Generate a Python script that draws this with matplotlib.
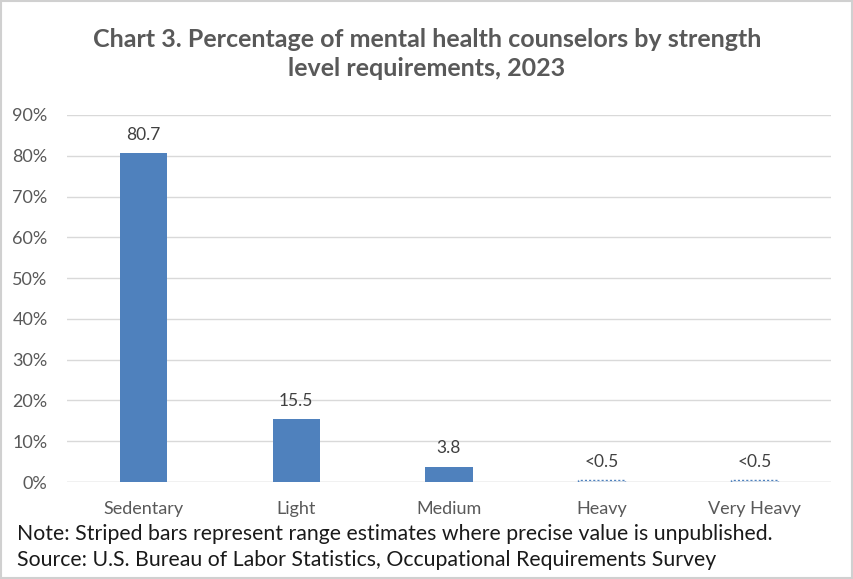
import matplotlib.pyplot as plt
from matplotlib.patches import Rectangle

categories = ['Sedentary', 'Light', 'Medium', 'Heavy', 'Very Heavy']
values = [80.7, 15.5, 3.8, 0.5, 0.5]
labels = ['80.7', '15.5', '3.8', '<0.5', '<0.5']
is_range = [False, False, False, True, True]

plt.rcParams['font.family'] = ['Lato', 'DejaVu Sans']

fig = plt.figure(figsize=(8.54, 5.79), dpi=100)
ax = fig.add_axes([0.0785, 0.1675, 0.8945, 0.634])

blue = '#4F81BD'
x = range(len(categories))
for i, (v, r) in enumerate(zip(values, is_range)):
    if r:
        ax.bar(i, v, width=0.31, facecolor='none', edgecolor=blue,
               linestyle=(0, (1.5, 1.5)), linewidth=1)
        ax.text(i, 3.0, labels[i], ha='center', va='bottom', fontsize=12.5, color='#404040')
    else:
        ax.bar(i, v, width=0.31, color=blue)
        ax.text(i, v + 2.5, labels[i], ha='center', va='bottom', fontsize=12.5, color='#404040')

ax.set_ylim(0, 90)
ax.set_xlim(-0.5, 4.5)
ax.set_yticks(range(0, 91, 10))
ax.set_yticklabels([f'{t}%' for t in range(0, 91, 10)])
ax.set_xticks(list(x))
ax.set_xticklabels(categories)
ax.tick_params(axis='both', length=0, labelsize=13, labelcolor='#595959')
ax.tick_params(axis='y', pad=14)
ax.tick_params(axis='x', pad=14)
ax.grid(axis='y', color='#d9d9d9', linewidth=1)
ax.set_axisbelow(True)
for s in ax.spines.values():
    s.set_visible(False)
ax.axhline(0, color='#d9d9d9', linewidth=1, zorder=0.5)

fig.text(0.5, 0.907, 'Chart 3. Percentage of mental health counselors by strength\nlevel requirements, 2023',
         ha='center', va='center', fontsize=18, fontweight='bold', color='#595959', linespacing=1.3)

fig.text(0.02, 0.077, 'Note: Striped bars represent range estimates where precise value is unpublished.',
         fontsize=15.3, color='#1a1a1a', va='center')
fig.text(0.02, 0.033, 'Source: U.S. Bureau of Labor Statistics, Occupational Requirements Survey',
         fontsize=15.3, color='#1a1a1a', va='center')

fig.patches.append(Rectangle((0.001, 0.002), 0.997, 0.996, transform=fig.transFigure,
                             fill=False, edgecolor='#d0d0d0', linewidth=1.5))

fig.savefig('out.png', dpi=100)
